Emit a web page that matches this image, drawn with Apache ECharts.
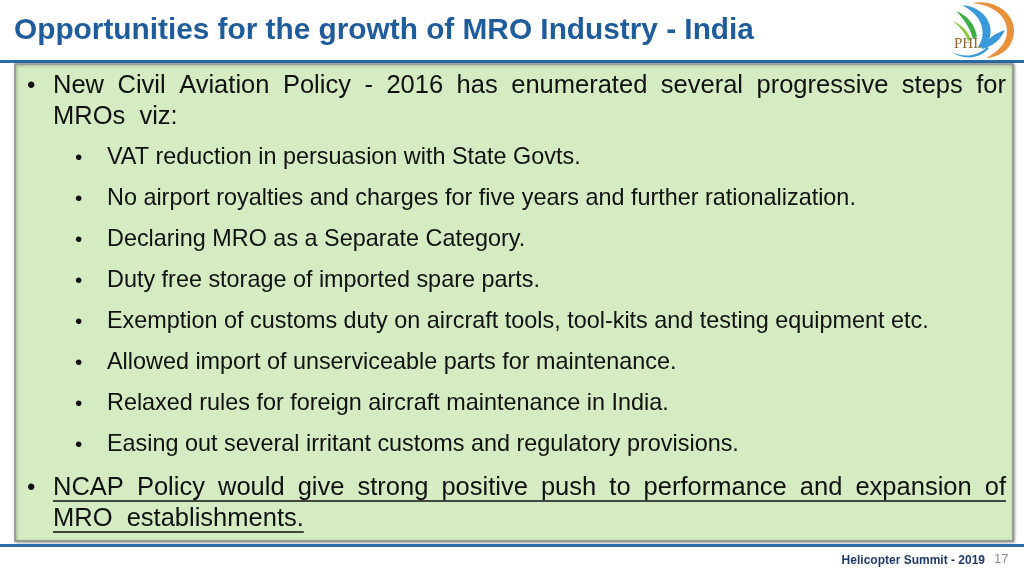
<!DOCTYPE html>
<html><head><meta charset="utf-8">
<script src="https://cdn.jsdelivr.net/npm/echarts@6/dist/echarts.min.js"></script>
<style>html,body{margin:0;padding:0;background:#fff}#c{width:1024px;height:576px}</style>
</head><body><div id="c"></div>
<script>
const titleText = "Opportunities for the growth of MRO Industry - India";
const mainPoint1 = ["New Civil Aviation Policy - 2016 has enumerated several progressive steps for", "MROs  viz:"];
const subPoints = [
  "VAT reduction in persuasion with State Govts.",
  "No airport royalties and charges for five years and further rationalization.",
  "Declaring MRO as a Separate Category.",
  "Duty free storage of imported spare parts.",
  "Exemption of customs duty on aircraft tools, tool-kits and testing equipment etc.",
  "Allowed import of unserviceable parts for maintenance.",
  "Relaxed rules for foreign aircraft maintenance in India.",
  "Easing out several irritant customs and regulatory provisions."
];
const mainPoint2 = ["NCAP Policy would give strong positive push to performance and expansion of", "MRO  establishments."];
const footerText = "Helicopter Summit - 2019";
const pageNumber = "17";

const FF = 'Liberation Sans';
const cvs = document.createElement('canvas').getContext('2d');
function measure(t, size, weight){ cvs.font = (weight||'normal') + ' ' + size + 'px "' + FF + '"'; return cvs.measureText(t).width; }

const els = [];
function txt(t, x, y, size, fill, align, weight, family){
  els.push({type:'text', x:x, y:y, silent:true, style:{text:t, fontSize:size, fontFamily:family||FF, fontWeight:weight||'normal', fill:fill,
    textAlign:align||'left', textVerticalAlign:'middle', align:align||'left', verticalAlign:'middle'}});
}
function line(x1,y1,x2,y2,color,w){
  els.push({type:'line', silent:true, shape:{x1,y1,x2,y2}, style:{stroke:color, lineWidth:w}});
}
function justified(t, x0, x1, y, size, fill, underline){
  const words = t.split(' ');
  const widths = words.map(w => measure(w, size));
  const total = widths.reduce((a,b)=>a+b,0);
  const gap = (x1 - x0 - total) / (words.length - 1);
  let x = x0;
  words.forEach((w,i)=>{ txt(w, x, y, size, fill); x += widths[i] + gap; });
  if (underline) line(x0, y+13, x1, y+13, fill, 1.6);
}

// header
txt(titleText, 14, 31, 29.8, '#1F5C9C', 'left', 'bold');
els.push({type:'rect', silent:true, shape:{x:0,y:60,width:1024,height:3}, style:{fill:'#2C6AA6'}});
// green box
els.push({type:'rect', silent:true, shape:{x:15,y:64,width:998,height:477},
  style:{fill:'#D5EBC1', stroke:'#8E8E8E', lineWidth:1.5, shadowBlur:3, shadowColor:'rgba(0,0,0,0.35)', shadowOffsetX:1, shadowOffsetY:1}});
els.push({type:'rect', silent:true, shape:{x:0,y:544,width:1024,height:3}, style:{fill:'#2C6AA6'}});

const ink = '#111111';
const MS = 25.5, SS = 23.4;
txt('\u2022', 27, 86, 24, ink);
justified(mainPoint1[0], 53, 1006, 86, MS, ink, false);
txt(mainPoint1[1], 53, 117, MS, ink);
subPoints.forEach((s,i)=>{
  const y = 158 + 41*i;
  txt('\u2022', 75, y, 21, ink);
  txt(s, 107, y, SS, ink);
});
txt('\u2022', 27, 488, 24, ink);
justified(mainPoint2[0], 53, 1006, 488, MS, ink, true);
txt(mainPoint2[1], 53, 519, MS, ink);
line(53, 532, 53 + measure(mainPoint2[1], MS), 532, ink, 1.6);

// footer
txt(footerText, 985, 561, 12, '#1F3A68', 'right', 'bold');
txt(pageNumber, 994, 559, 13, '#8C8C8C');

// logo (decorative, drawn as inline SVG image)
const logoSvg = '<svg xmlns="http://www.w3.org/2000/svg" width="70" height="62" viewBox="945 0 70 62">' +
  '<path d="M972,3 C996,-1 1015,14 1014,32 C1013,48 1001,57 986,58 C998,52 1007,43 1007,31 C1007,16 993,5 972,3 Z" fill="#E8913A"/>' +
  '<path d="M962,5 C976,6 987,14 990,26 C992,35 989,42 984,47 L978,47 C984,39 984,28 979,20 C975,13 969,9 962,5 Z" fill="#3A9AD9"/>' +
  '<path d="M956,11 C967,15 975,24 977,37 L973,39 C970,28 964,19 956,11 Z" fill="#3FAE49"/>' +
  '<path d="M953,21 C962,25 968,31 971,40 L968,41 C965,33 960,27 953,21 Z" fill="#8CC63F"/>' +
  '<path d="M982,47 C988,38 996,33 1005,30 C1001,39 994,46 982,49 Z" fill="#3A9AD9"/>' +
  '<path d="M950,51 C962,58 977,57 987,47 L989,48 C980,59 964,61 950,51 Z" fill="#3A9AD9"/>' +
  '</svg>';
els.push({type:'image', silent:true, x:945, y:0, style:{image:'data:image/svg+xml;charset=utf-8,' + encodeURIComponent(logoSvg), width:70, height:62}});
txt('PHL', 954, 44, 15, '#8A6A2C', 'left', 'normal', 'Liberation Serif');

const chart = echarts.init(document.getElementById('c'), null, {renderer:'canvas'});
chart.setOption({animation:false, graphic:{elements:els}});
</script>
</body></html>
